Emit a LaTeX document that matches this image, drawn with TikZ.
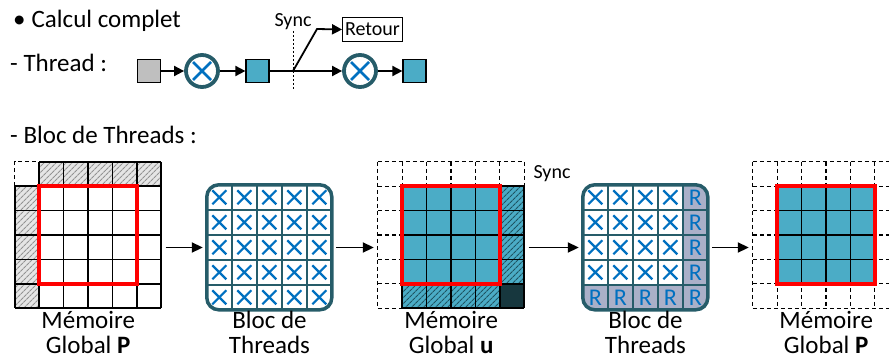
\documentclass[tikz,border=0pt]{standalone}
\usepackage{fontspec}
\setmainfont{Carlito}
\usepackage{tikz}
\usetikzlibrary{arrows.meta,positioning,patterns.meta}
\definecolor{cell_aqua}{RGB}{75,172,198}
\definecolor{aqua_deep}{RGB}{30,84,98}
\definecolor{bloc_teal}{RGB}{38,92,105}
\definecolor{cell_dark}{RGB}{23,55,62}
\definecolor{cross_blue}{RGB}{0,112,192}
\definecolor{reduce_gray}{RGB}{170,176,200}

\tikzset{
  txt/.style={font=\fontsize{25}{27}\selectfont, inner sep=0pt},
  lbl/.style={align=center, font=\fontsize{25}{25}\selectfont, inner sep=0pt},
  synclbl/.style={font=\fontsize{20}{22}\selectfont, inner sep=1pt},
  flow/.style={-{Triangle[length=11pt,width=10pt]}, line width=1.9pt, shorten <=4pt, shorten >=4pt},
  thflow/.style={-{Triangle[length=10pt,width=10pt]}, line width=1.8pt},
  panel/.style={minimum width=146.4pt, minimum height=146.4pt, inner sep=0pt},
  bloc/.style={minimum width=125pt, minimum height=125pt, inner sep=0pt},
  sq/.style={draw, line width=1.2pt, minimum size=23pt, inner sep=0pt},
  mul/.style={circle, draw=bloc_teal, line width=3.8pt, minimum size=32pt, inner sep=0pt,
    path picture={\draw[cross_blue, line width=2.8pt]
      ([shift={(-9pt,-9pt)}]path picture bounding box.center) -- ([shift={(9pt,9pt)}]path picture bounding box.center)
      ([shift={(-9pt,9pt)}]path picture bounding box.center) -- ([shift={(9pt,-9pt)}]path picture bounding box.center);}},
  gridline/.style={line width=1.5pt},
  dashline/.style={line width=1.1pt, dash pattern=on 4pt off 3pt},
  redbox/.style={draw=red, line width=3.5pt},
  blocline/.style={draw=bloc_teal, line width=2.5pt},
  blocborder/.style={draw=bloc_teal, line width=3.5pt, rounded corners=12pt},
  cross/.style={draw=cross_blue, line width=2.2pt},
  rlbl/.style={text=cross_blue, font=\fontsize{24}{24}\selectfont, inner sep=0pt},
  hatchgray/.style={preaction={fill=gray!20}, pattern={Lines[angle=45,distance=4pt,line width=1.1pt]}, pattern color=gray!85},
  hatchaqua/.style={preaction={fill=cell_aqua}, pattern={Lines[angle=45,distance=4pt,line width=1.2pt]}, pattern color=aqua_deep},
}

\begin{document}
\begin{tikzpicture}[x=1pt, y=-1pt]
  \useasboundingbox (0,0) rectangle (889,361);

  % Titles
  \node[txt, anchor=base west] (title) at (13,28) {•\hspace{6pt}Calcul complet};
  \node[txt, anchor=base west] (thr) at (10,72) {- Thread :};
  \node[txt, anchor=base west] (blk) at (10,143) {- Bloc de Threads :};

  % Thread row
  \node[sq, fill=gray!50] (t0) at (149,71) {};
  \node[mul] (t1) at (202,71) {};
  \node[sq, fill=cell_aqua] (t2) at (257.5,71) {};
  \coordinate (br) at (293,71);
  \coordinate (kink) at (317,29);
  \node[mul] (t3) at (360,71) {};
  \node[sq, fill=cell_aqua] (t4) at (414.5,71) {};
  \node[draw, line width=1pt, font=\fontsize{20}{22}\selectfont, inner xsep=2.5pt,
    minimum height=24pt] (ret) at (372.5,29.5) {Retour};
  \coordinate (syncTop) at (293,31);
  \coordinate (syncBot) at (293,90);
  \draw[line width=1pt, dash pattern=on 2pt off 2pt] (syncTop) -- (syncBot);
  \node[synclbl, above] (syncA) at (syncTop) {Sync};
  \draw[thflow] (t0) -- (t1);
  \draw[thflow] (t1) -- (t2);
  \draw[line width=1.8pt] (t2) -- (br);
  \draw[thflow] (br) -- (t3);
  \draw[thflow] (t3) -- (t4);
  \draw[thflow] (br) -- (kink) -- (ret.west);

  % Panels
  \node[panel] (memP) at (88.2,235.2) {};
  \node[bloc] (blocA) at (269.5,247.5) {};
  \node[panel] (memU) at (451.2,235.2) {};
  \node[bloc] (blocB) at (645.5,247.5) {};
  \node[panel] (memQ) at (826.2,235.2) {};

  % Memoire Global P
  \begin{scope}[shift={(memP.north west)}]
    \foreach \i in {1,...,5} {
      \path[hatchgray] (\i*24.4,0) rectangle ++(24.4,24.4);
      \path[hatchgray] (0,\i*24.4) rectangle ++(24.4,24.4);
    }
    \foreach \k in {1,...,6} {
      \draw[gridline] (0,\k*24.4) -- (146.4,\k*24.4);
      \draw[gridline] (\k*24.4,0) -- (\k*24.4,146.4);
    }
    \draw[gridline] (24.4,0) -- (146.4,0);
    \draw[gridline] (0,24.4) -- (0,146.4);
    \draw[dashline] (0,24.4) -- (0,0) -- (24.4,0);
    \draw[redbox] (24.4,24.4) rectangle (122,122);
  \end{scope}

  % Bloc de Threads (calcul)
  \begin{scope}[shift={(blocA.north west)}]
    \begin{scope}
      \clip[rounded corners=12pt] (0,0) rectangle (125,125);
      \foreach \k in {1,...,4} {
        \draw[blocline] (\k*25,0) -- (\k*25,125);
        \draw[blocline] (0,\k*25) -- (125,\k*25);
      }
    \end{scope}
    \foreach \i in {0,...,4}
      \foreach \j in {0,...,4}
        \draw[cross] (\i*25+5.5,\j*25+5.5) -- ++(14,14)
          (\i*25+19.5,\j*25+5.5) -- ++(-14,14);
    \draw[blocborder] (0,0) rectangle (125,125);
  \end{scope}

  % Memoire Global u
  \begin{scope}[shift={(memU.north west)}]
    \foreach \k in {0,...,6} {
      \draw[dashline] (0,\k*24.4) -- (146.4,\k*24.4);
      \draw[dashline] (\k*24.4,0) -- (\k*24.4,146.4);
    }
    \fill[cell_aqua] (24.4,24.4) rectangle (122,122);
    \path[hatchaqua] (122,24.4) rectangle (146.4,122);
    \path[hatchaqua] (24.4,122) rectangle (122,146.4);
    \fill[cell_dark] (122,122) rectangle (146.4,146.4);
    \foreach \k in {1,...,6} {
      \draw[gridline] (24.4,\k*24.4) -- (146.4,\k*24.4);
      \draw[gridline] (\k*24.4,24.4) -- (\k*24.4,146.4);
    }
    \draw[redbox] (24.4,24.4) rectangle (122,122);
  \end{scope}
  \node[synclbl, anchor=base] (syncB) at (552,178) {Sync};

  % Bloc de Threads (reduction)
  \begin{scope}[shift={(blocB.north west)}]
    \begin{scope}
      \clip[rounded corners=12pt] (0,0) rectangle (125,125);
      \fill[reduce_gray] (100,0) rectangle (125,125);
      \fill[reduce_gray] (0,100) rectangle (125,125);
      \foreach \k in {1,...,4} {
        \draw[blocline] (\k*25,0) -- (\k*25,125);
        \draw[blocline] (0,\k*25) -- (125,\k*25);
      }
    \end{scope}
    \foreach \i in {0,...,3}
      \foreach \j in {0,...,3}
        \draw[cross] (\i*25+5.5,\j*25+5.5) -- ++(14,14)
          (\i*25+19.5,\j*25+5.5) -- ++(-14,14);
    \foreach \k in {0,...,4} {
      \node[rlbl] at (112.5,\k*25+12.5) {R};
      \ifnum\k<4
        \node[rlbl] at (\k*25+12.5,112.5) {R};
      \fi
    }
    \draw[blocborder] (0,0) rectangle (125,125);
  \end{scope}

  % Memoire Global P (resultat)
  \begin{scope}[shift={(memQ.north west)}]
    \foreach \k in {0,...,6} {
      \draw[dashline] (0,\k*24.4) -- (146.4,\k*24.4);
      \draw[dashline] (\k*24.4,0) -- (\k*24.4,146.4);
    }
    \fill[cell_aqua] (24.4,24.4) rectangle (122,122);
    \foreach \k in {1,...,5} {
      \draw[gridline] (24.4,\k*24.4) -- (122,\k*24.4);
      \draw[gridline] (\k*24.4,24.4) -- (\k*24.4,122);
    }
    \draw[redbox] (24.4,24.4) rectangle (122,122);
  \end{scope}

  % Connectors
  \draw[flow] (memP.east |- blocA.west) -- (blocA.west);
  \draw[flow] (blocA.east) -- (memU.west |- blocA.east);
  \draw[flow] (memU.east |- blocB.west) -- (blocB.west);
  \draw[flow] (blocB.east) -- (memQ.west |- blocB.east);

  % Labels
  \node[lbl, below=2pt of memP] (lblP) {Mémoire\\Global \textbf{P}};
  \node[lbl, below=1pt of blocA] (lblA) {Bloc de\\Threads};
  \node[lbl, below=2pt of memU] (lblU) {Mémoire\\Global \textbf{u}};
  \node[lbl, below=1pt of blocB] (lblB) {Bloc de\\Threads};
  \node[lbl, below=2pt of memQ] (lblQ) {Mémoire\\Global \textbf{P}};
\end{tikzpicture}
\end{document}
